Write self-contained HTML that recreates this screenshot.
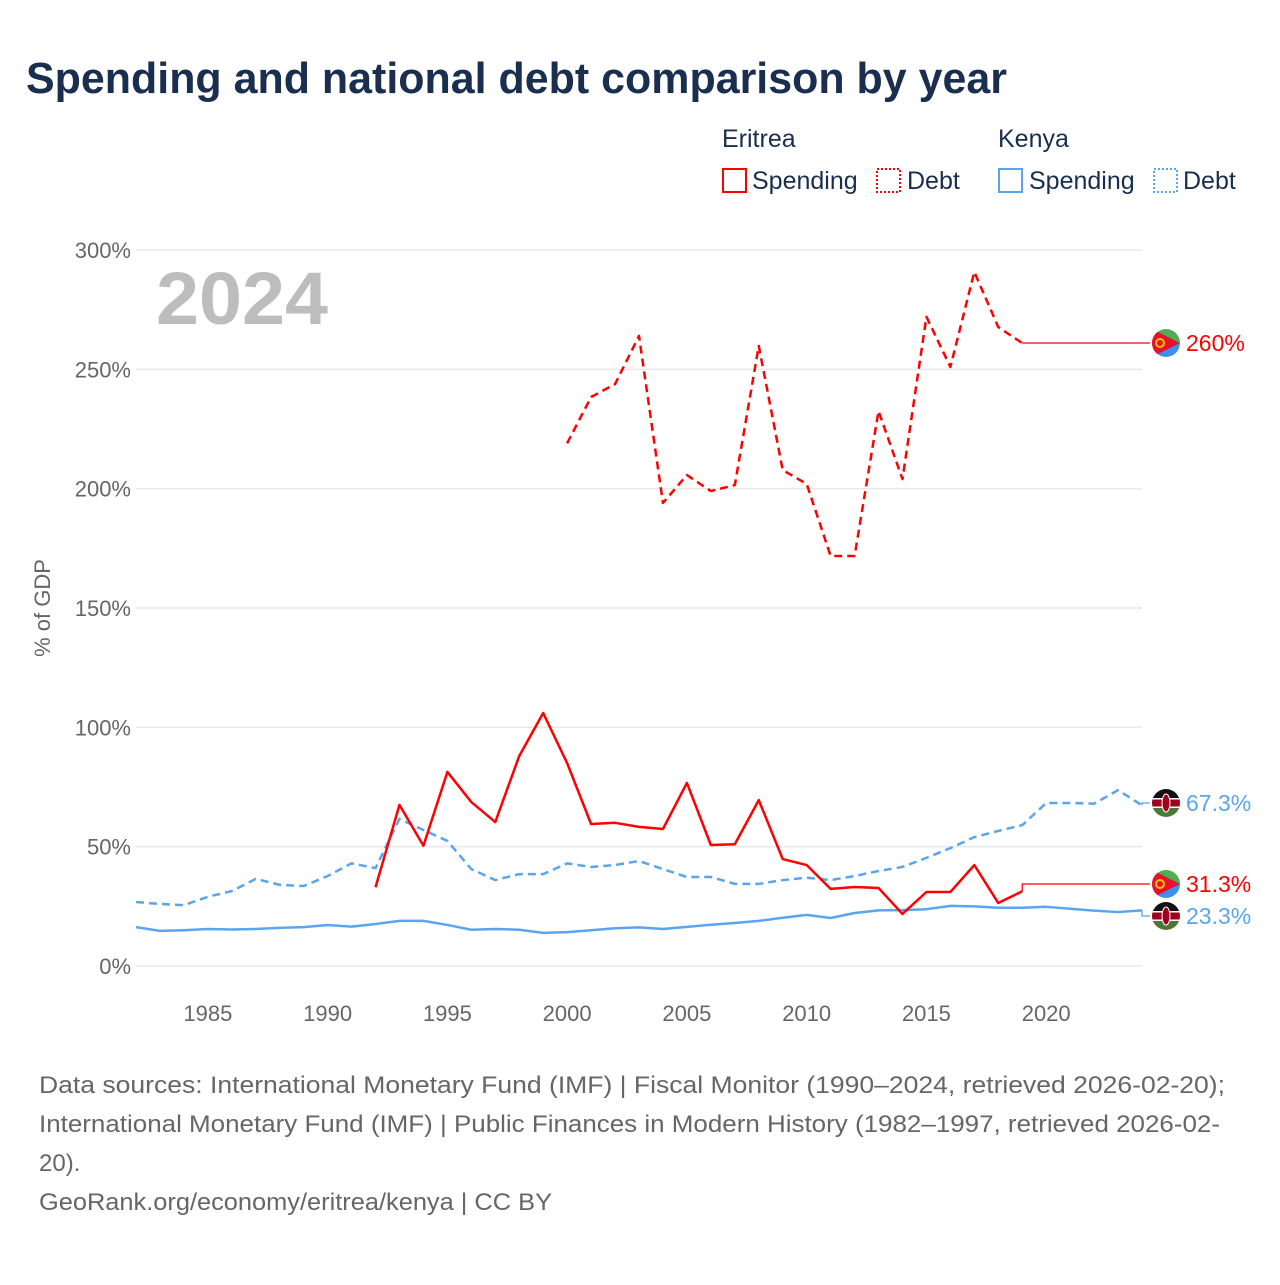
<!DOCTYPE html>
<html><head><meta charset="utf-8"><style>
body{margin:0;background:#fff;font-family:"Liberation Sans",sans-serif;}
svg text{font-family:"Liberation Sans",sans-serif;}
</style></head><body>
<svg id="chart" width="1280" height="1280" xmlns="http://www.w3.org/2000/svg">
<rect width="1280" height="1280" fill="#fff"/>
<text x="26" y="93" font-size="44" font-weight="bold" fill="#1a2e4f" textLength="981" lengthAdjust="spacingAndGlyphs">Spending and national debt comparison by year</text>
<g font-size="25" fill="#1a2e4f">
<text x="722" y="147" fill="#1a2e4f">Eritrea</text>
<text x="998" y="147" fill="#1a2e4f">Kenya</text>
<g><rect x="723" y="169" width="23" height="23" fill="none" stroke="#f00" stroke-width="2"/><text x="752" y="189" fill="#1a2e4f">Spending</text></g>
<g><rect x="877" y="169" width="23" height="23" fill="none" stroke="#f00" stroke-width="2" stroke-dasharray="2,2"/><text x="907" y="189" fill="#1a2e4f">Debt</text></g>
<g><rect x="999" y="169" width="23" height="23" fill="none" stroke="#5aa5ee" stroke-width="2"/><text x="1029" y="189" fill="#1a2e4f">Spending</text></g>
<g><rect x="1154" y="169" width="23" height="23" fill="none" stroke="#5aa5ee" stroke-width="2" stroke-dasharray="2,2"/><text x="1183" y="189" fill="#1a2e4f">Debt</text></g>
</g>
<text x="156" y="324" font-size="74" font-weight="bold" fill="#bdbdbd" textLength="172" lengthAdjust="spacingAndGlyphs">2024</text>
<text transform="translate(50,608) rotate(-90)" text-anchor="middle" font-size="22" fill="#666">% of GDP</text>
<g id="grid"></g><g id="series"></g><g id="labels"></g>
<g font-size="24" fill="#666">
<text x="39" y="1093" textLength="1186" lengthAdjust="spacingAndGlyphs">Data sources: International Monetary Fund (IMF) | Fiscal Monitor (1990–2024, retrieved 2026-02-20);</text>
<text x="39" y="1132" textLength="1181" lengthAdjust="spacingAndGlyphs">International Monetary Fund (IMF) | Public Finances in Modern History (1982–1997, retrieved 2026-02-</text>
<text x="39" y="1171">20).</text>
<text x="39" y="1210" textLength="513" lengthAdjust="spacingAndGlyphs">GeoRank.org/economy/eritrea/kenya | CC BY</text>
</g>
</svg>
<script>
const yTicks=[0,50,100,150,200,250,300];
const xTicks=[1985,1990,1995,2000,2005,2010,2015,2020];
const kenyaDebt=[26.8,26,25.5,29,31.4,36.5,34,33.5,37.7,43,41,61.6,57,52.4,40.6,36,38.5,38.5,43,41.5,42.3,44,40.6,37.3,37.3,34.4,34.4,36,37,36,37.7,39.8,41.5,45.3,49.4,54,56.6,59,68.3,68.3,68,73.7,67.3];
const kenyaSpend=[16.3,14.7,15,15.5,15.3,15.5,16,16.3,17.2,16.5,17.6,18.9,18.9,17.2,15.2,15.5,15.2,13.9,14.2,15,15.8,16.2,15.5,16.4,17.3,18,18.9,20.2,21.4,20.1,22.2,23.3,23.4,23.8,25.2,25,24.4,24.4,24.8,24,23.2,22.6,23.3];
const eritreaSpend=[33,67.5,50.4,81.3,68.7,60.3,88,106,85,59.5,60,58.3,57.4,76.7,50.7,51,69.5,44.8,42.3,32.3,33.1,32.7,21.8,31,31,42.3,26.4,31.3];
const eritreaDebt=[219,238.4,243.8,264,194,205.7,199,201.5,259.8,207.8,202,171.8,171.8,232.5,204,272,251,290.8,267.7,261];
const endLabels=["260%","67.3%","31.3%","23.3%"];
const NS="http://www.w3.org/2000/svg";
const X=yr=>136+(yr-1982)*(1142-136)/42;
const Y=v=>966-v*(966-250)/300;
function mk(tag,attrs,parent){const e=document.createElementNS(NS,tag);for(const k in attrs)e.setAttribute(k,attrs[k]);parent.appendChild(e);return e;}
const grid=document.getElementById('grid'),series=document.getElementById('series'),labels=document.getElementById('labels');
yTicks.forEach(t=>{
 const l=mk('line',{x1:136,x2:1142,y1:Y(t),y2:Y(t),stroke:'#e8e8e8','stroke-width':1.5},grid);
 
 
 const tx=mk('text',{x:131,y:Y(t)+8,'text-anchor':'end','font-size':22,fill:'#666'},grid);
 tx.textContent=t+'%';
 
 
});
xTicks.forEach(t=>{
 const tx=mk('text',{x:X(t),y:1021,'text-anchor':'middle','font-size':22,fill:'#666'},grid);
 tx.textContent=t;
 
 
});
function line(vals,start,color,dash,name,endY){
 const pts=vals.map((v,i)=>X(start+i)+','+Y(v));
 const lastX=X(start+vals.length-1),lastY=Y(vals[vals.length-1]);
 const p=mk('polyline',{points:pts.join(' '),fill:'none',stroke:color,'stroke-width':2.5,'stroke-linejoin':'round'},series);
 if(dash)p.setAttribute('stroke-dasharray','8,5');
 
 
 const c=mk('polyline',{points:lastX+','+lastY+' '+lastX+','+endY+' 1150,'+endY,fill:'none',stroke:color,'stroke-width':1.3},series);
 
 
}
line(kenyaDebt,1982,'#5aa5ee',true,'kenya-debt-line',803);
line(kenyaSpend,1982,'#5aa5ee',false,'kenya-spending-line',916);
line(eritreaSpend,1992,'#f00',false,'eritrea-spending-line',884);
line(eritreaDebt,2000,'#f00',true,'eritrea-debt-line',343);
function flag(cx,cy,type){
 const g=mk('g',{},labels);
 
 
 const id='c'+type+cy;
 const cp=mk('clipPath',{id:id},g);mk('circle',{cx:cx,cy:cy,r:14},cp);
 const h=mk('g',{'clip-path':'url(#'+id+')'},g);
 if(type==='eritrea'){
  mk('rect',{x:cx-14,y:cy-14,width:28,height:14,fill:'#4caf50'},h);
  mk('rect',{x:cx-14,y:cy,width:28,height:14,fill:'#3b8ff0'},h);
  mk('polygon',{points:(cx-14)+','+(cy-14)+' '+(cx+14)+','+cy+' '+(cx-14)+','+(cy+14),fill:'#e8112d'},h);
  mk('circle',{cx:cx-6,cy:cy,r:4,fill:'none',stroke:'#f7c200','stroke-width':2},h);
 }else{
  mk('rect',{x:cx-14,y:cy-14,width:28,height:10,fill:'#111'},h);
  mk('rect',{x:cx-14,y:cy-4,width:28,height:8,fill:'#a0001e'},h);
  mk('rect',{x:cx-14,y:cy+4,width:28,height:10,fill:'#4a7a36'},h);
  mk('rect',{x:cx-14,y:cy-5,width:28,height:1.5,fill:'#fff'},h);
  mk('rect',{x:cx-14,y:cy+3.5,width:28,height:1.5,fill:'#fff'},h);
  mk('ellipse',{cx:cx,cy:cy,rx:4,ry:9,fill:'#a0001e',stroke:'#fff','stroke-width':1},h);
 }
}
const lab=[[343,'eritrea','#f00'],[803,'kenya','#5aa5ee'],[884,'eritrea','#f00'],[916,'kenya','#5aa5ee']];
lab.forEach((d,i)=>{
 flag(1166,d[0],d[1]);
 const t=mk('text',{x:1186,y:d[0]+8,'font-size':23,fill:d[2]},labels);
 t.textContent=endLabels[i];
 
 
});
</script>
</body></html>
